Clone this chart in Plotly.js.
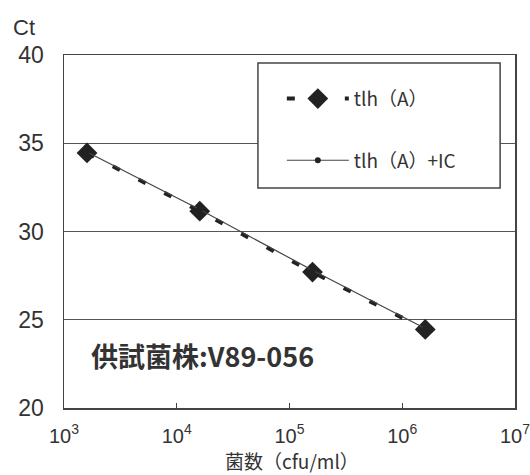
<!DOCTYPE html>
<html>
<head>
<meta charset="utf-8">
<script src="https://cdn.plot.ly/plotly-3.0.1.min.js"></script>
<style>html,body{margin:0;padding:0;background:#fff;}#chart{width:530px;height:475px;}</style>
</head>
<body>
<div id="chart"></div>
<script>
const cfu = [1600, 16000, 160000, 1600000];
const ctA = [34.45, 31.15, 27.7, 24.45];
const ctAIC = [34.5, 31.25, 27.8, 24.5];
const seriesNames = ["tlh（A）", "tlh（A）+IC"];
const xTickVals = [1e3, 1e4, 1e5, 1e6, 1e7];
const xTickText = ["10<sup>3</sup>", "10<sup>4</sup>", "10<sup>5</sup>", "10<sup>6</sup>", "10<sup>7</sup>"];
const yTickVals = [20, 25, 30, 35, 40];
const strainLabel = "供試菌株:V89-056";
const yTitle = "Ct";
const xTitle = "菌数（cfu/ml）";

const sans = "Liberation Sans, Arial, sans-serif";
const cjk = "Noto Sans CJK JP, sans-serif";

const traces = [
  {
    x: cfu, y: ctA, name: seriesNames[0], type: "scatter", mode: "lines+markers",
    legendgroup: "a",
    line: {color: "#222", width: 4, dash: "8px,21px"},
    marker: {symbol: "diamond", size: 16, color: "#222"}
  },
  {
    x: cfu, y: ctAIC, name: seriesNames[1], type: "scatter", mode: "lines+markers",
    legendgroup: "b",
    line: {color: "#444", width: 1.2},
    marker: {symbol: "circle", size: 6, color: "#222"}
  }
];

const layout = {
  width: 530, height: 475,
  margin: {l: 64, r: 15, t: 55, b: 67},
  paper_bgcolor: "#fff", plot_bgcolor: "#fff",
  showlegend: true,
  legend: {
    x: 0.483, y: 0.93, xanchor: "left", yanchor: "top",
    bgcolor: "rgba(0,0,0,0)", borderwidth: 0,
    font: {family: cjk, size: 19, color: "#333"},
    itemwidth: 62, tracegroupgap: 34,
    traceorder: "grouped"
  },
  xaxis: {
    type: "log", range: [3, 7],
    tickvals: xTickVals, ticktext: xTickText,
    ticks: "inside", ticklen: 5, tickcolor: "#444",
    ticklabeloverflow: "allow", ticklabelstandoff: 9,
    showgrid: false, zeroline: false,
    showline: true, linecolor: "#444", linewidth: 1.5, mirror: true,
    tickfont: {family: sans, size: 20, color: "#333"}
  },
  yaxis: {
    range: [20, 40], tickvals: yTickVals,
    ticks: "", ticklabelstandoff: 14,
    showgrid: true, gridcolor: "#555", gridwidth: 1,
    zeroline: false,
    showline: true, linecolor: "#444", linewidth: 1.5, mirror: true,
    tickfont: {family: sans, size: 23, color: "#333"}
  },
  shapes: [
    {type: "rect", xref: "paper", yref: "paper", x0: 0.430, x1: 0.967, y0: 0.623, y1: 0.977,
     fillcolor: "#fff", line: {color: "#444", width: 1.5}, layer: "above"}
  ],
  annotations: [
    {text: yTitle, xref: "paper", yref: "paper", x: -0.118, y: 1.079, xanchor: "left", yanchor: "middle",
     showarrow: false, font: {family: sans, size: 22, color: "#333"}},
    {text: xTitle, xref: "paper", yref: "paper", x: 0.505, y: -0.1898, xanchor: "center", yanchor: "bottom",
     borderpad: 0, showarrow: false, font: {family: cjk, size: 19, color: "#333"}},
    {text: "<b>" + strainLabel + "</b>", xref: "paper", yref: "paper", x: 0.056, y: 0.15,
     xanchor: "left", yanchor: "middle", showarrow: false,
     font: {family: cjk, size: 27, color: "#333"}}
  ]
};

Plotly.newPlot("chart", traces, layout, {displayModeBar: false, staticPlot: true});
</script>
</body>
</html>
